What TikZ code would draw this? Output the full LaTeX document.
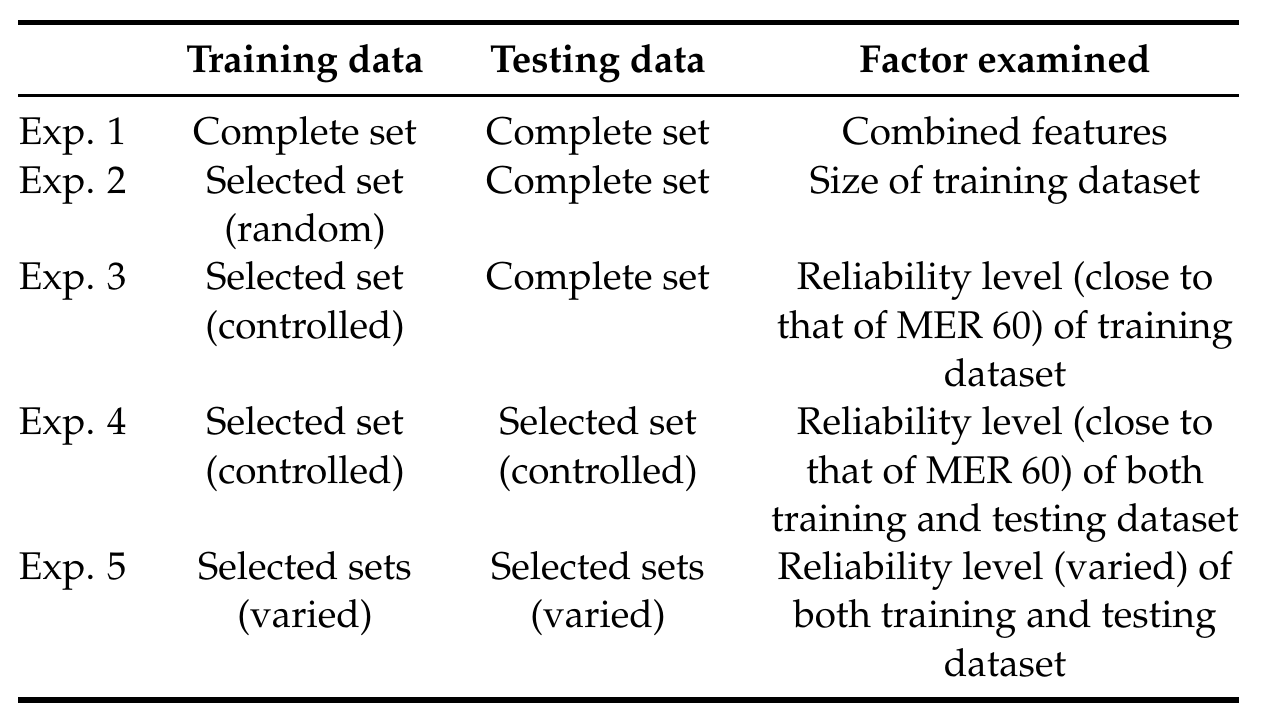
\documentclass[tikz,border=0pt]{standalone}
\usepackage[T1]{fontenc}
\usepackage{mathpazo}
\begin{document}
\begin{tikzpicture}[x=0.25pt, y=-0.25pt,
  cell/.style={anchor=base, inner sep=0pt, align=center, font=\fontsize{9.65}{12.07}\selectfont},
  head/.style={cell, font=\fontsize{9.75}{12.07}\selectfont\bfseries},
  lines/.style={yshift=-(#1-1)*12.07pt}]

\useasboundingbox (0,0) rectangle (1262,727);

\def\xl{18}; % left end of rules
\def\xr{1239}; % right end of rules
\def\xb{305}; % training data
\def\xc{598}; % testing data
\def\xd{1005}; % factor examined

\def\yt{22.5}; % top rule
\def\ym{95.7}; % mid rule
\def\ybt{700}; % bottom rule

\def\yh{73}; % header
\def\ya{145}; % exp 1
\def\yb{193.3}; % exp 2
\def\yc{289.9}; % exp 3
\def\yd{434.8}; % exp 4
\def\ye{579.7}; % exp 5

% rules
\coordinate (topl) at (\xl, \yt);
\coordinate (topr) at (\xr, \yt);
\coordinate (midl) at (\xl, \ym);
\coordinate (midr) at (\xr, \ym);
\coordinate (botl) at (\xl, \ybt);
\coordinate (botr) at (\xr, \ybt);
\draw[line width=1.35pt] (topl) -- (topr);
\draw[line width=0.8pt] (midl) -- (midr);
\draw[line width=1.35pt] (botl) -- (botr);

% header
\node[head] (htrain) at (\xb, \yh) {Training data};
\node[head] (htest) at (\xc, \yh) {Testing data};
\node[head] (hfactor) at (\xd, \yh) {Factor examined};

% exp 1
\node[cell, anchor=base west] (exa) at (\xl, \ya) {Exp. 1};
\node[cell] (traina) at (\xb, \ya) {Complete set};
\node[cell] (testa) at (\xc, \ya) {Complete set};
\node[cell] (factora) at (\xd, \ya) {Combined features};

% exp 2
\node[cell, anchor=base west] (exb) at (\xl, \yb) {Exp. 2};
\node[cell, lines=2] (trainb) at (\xb, \yb) {Selected set\\(random)};
\node[cell] (testb) at (\xc, \yb) {Complete set};
\node[cell] (factorb) at (\xd, \yb) {Size of training dataset};

% exp 3
\node[cell, anchor=base west] (exc) at (\xl, \yc) {Exp. 3};
\node[cell, lines=2] (trainc) at (\xb, \yc) {Selected set\\(controlled)};
\node[cell] (testc) at (\xc, \yc) {Complete set};
\node[cell, lines=3] (factorc) at (\xd, \yc) {Reliability level (close to\\that of MER 60) of training\\dataset};

% exp 4
\node[cell, anchor=base west] (exd) at (\xl, \yd) {Exp. 4};
\node[cell, lines=2] (traind) at (\xb, \yd) {Selected set\\(controlled)};
\node[cell, lines=2] (testd) at (\xc, \yd) {Selected set\\(controlled)};
\node[cell, lines=3] (factord) at (\xd, \yd) {Reliability level (close to\\that of MER 60) of both\\training and testing dataset};

% exp 5
\node[cell, anchor=base west] (exe) at (\xl, \ye) {Exp. 5};
\node[cell, lines=2] (traine) at (\xb, \ye) {Selected sets\\(varied)};
\node[cell, lines=2] (teste) at (\xc, \ye) {Selected sets\\(varied)};
\node[cell, lines=3] (factore) at (\xd, \ye) {Reliability level (varied) of\\both training and testing\\dataset};

\end{tikzpicture}
\end{document}
